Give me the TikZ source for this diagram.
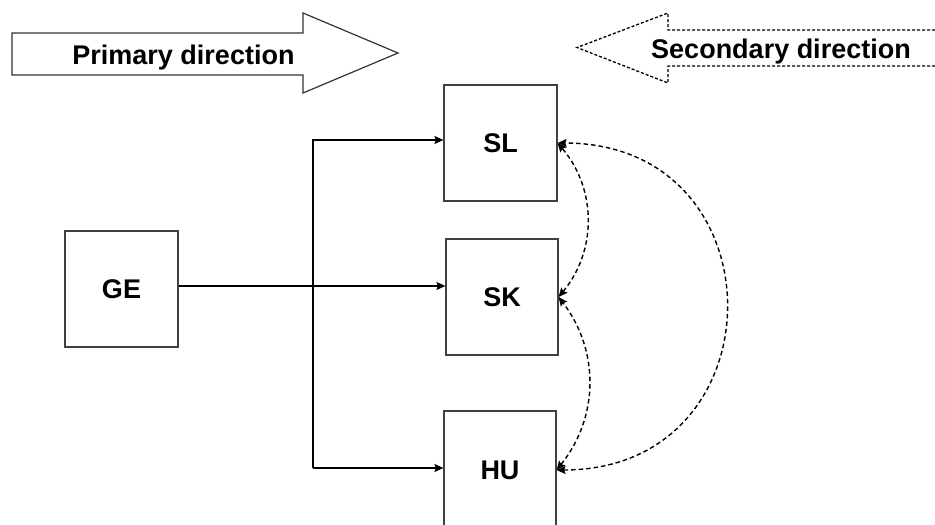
\documentclass[tikz,border=0pt]{standalone}
\usepackage{fontspec}
\setmainfont{Liberation Sans}
\usetikzlibrary{arrows.meta}
\tikzset{
  box/.style={draw=black!75, line width=1.2pt, minimum width=113pt, minimum height=116pt,
    inner sep=0pt, font=\fontsize{27}{32}\selectfont\bfseries},
  conn/.style={draw=black, line width=1.2pt, -{Stealth[length=9pt,width=8pt,inset=1.5pt]}},
  sec/.style={draw=black, line width=1.4pt, dash pattern=on 4.5pt off 3pt,
    {Stealth[length=9pt,width=8pt,inset=1.5pt]}-{Stealth[length=9pt,width=8pt,inset=1.5pt]}},
  label/.style={font=\fontsize{27}{32}\selectfont\bfseries, inner sep=0pt, anchor=base},
  bigarrow/.style={draw=black!80, line width=1.2pt, fill=white},
  bigdash/.style={draw=black, line width=1.3pt, dash pattern=on 3pt off 2pt}
}
\begin{document}
\begin{tikzpicture}[x=1pt,y=-1pt]
\useasboundingbox (0,0) rectangle (935,525);
% primary direction arrow
\draw[bigarrow] (12,33) -- (303,33) -- (303,13) -- (398,53) -- (303,93) -- (303,75) -- (12,75) -- cycle;
\node[label] (prim) at (183.5,64) {Primary direction};
% secondary direction arrow
\draw[bigdash] (940,30) -- (668,30) -- (668,13) -- (577,47.5) -- (668,83) -- (668,66) -- (940,66);
\node[label] (sec) at (781,58) {Secondary direction};
% boxes
\node[box] (GE) at (121.5,289) {GE};
\node[box] (SL) at (500.5,143) {SL};
\node[box, minimum width=112pt] (SK) at (502,297) {SK};
\node[box, minimum width=112pt, minimum height=118pt] (HU) at (500,470) {HU};
% solid connectors
\coordinate (vt) at (313,140);
\coordinate (vb) at (313,468);
\draw[conn] ([yshift=3pt]GE.east) -- ([yshift=3pt]GE.east -| SK.west);
\draw[conn] (vb) -- (vt) -- (vt -| SL.west);
\draw[conn] (vb) -- (vb -| HU.west);
% dashed curved connectors
\draw[sec] (SK.east) to[bend right=40] (SL.east);
\draw[sec] (HU.east) to[bend right=38] (SK.east);
\draw[sec] (HU.east) .. controls +(225,0) and +(225,0) .. (SL.east);
\end{tikzpicture}
\end{document}
